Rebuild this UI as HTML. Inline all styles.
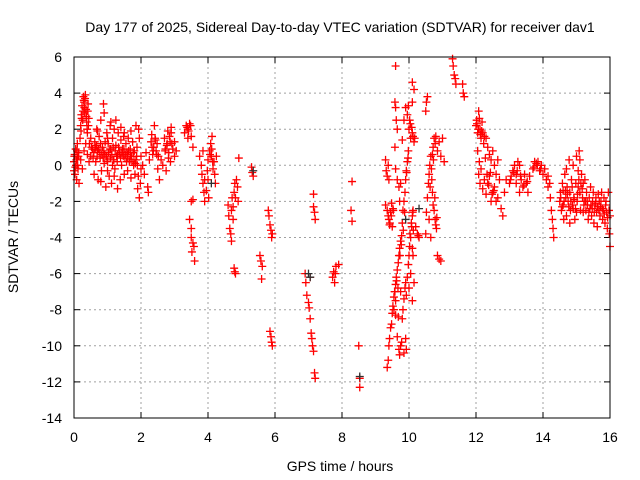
<!DOCTYPE html>
<html><head><meta charset="utf-8"><style>
body{margin:0;background:#fff}
svg{display:block;font-family:"Liberation Sans",sans-serif}
</style></head><body>
<svg id="chart" width="640" height="480" xmlns="http://www.w3.org/2000/svg">
<rect width="640" height="480" fill="#fff"/>
<text x="340" y="32" text-anchor="middle" font-size="14">Day 177 of 2025, Sidereal Day-to-day VTEC variation (SDTVAR) for receiver dav1</text>
<text x="340" y="471" text-anchor="middle" font-size="14">GPS time / hours</text>
<text transform="translate(18,237) rotate(-90)" text-anchor="middle" font-size="14">SDTVAR / TECUs</text>
<g id="grid"></g>
<g id="ticks"></g>
<g id="marks"></g>
<rect x="74" y="57" width="536" height="361" fill="none" stroke="#000" stroke-width="1"/>
</svg>
<script>
const xTicks=[0,2,4,6,8,10,12,14,16];
const yTicks=[-14,-12,-10,-8,-6,-4,-2,0,2,4,6];
const hours=[0,0,0.02,0.03,0.05,0.06,0.08,0.1,0.1,0.12,0.14,0.15,
0.18,0.2,0.22,0.24,0.26,0.28,0.3,0.32,0.34,0.36,0.38,0.4,0.42,0.44,0.46,0.5,0.2,0.25,0.3,0.35,0.4,0.45,0.5,0.55,
0.6,0.62,0.65,0.68,0.7,0.72,0.75,0.78,0.8,0.82,0.85,0.88,0.9,0.92,0.95,0.98,1.0,1.02,1.05,1.08,1.1,1.12,1.15,1.18,1.2,1.22,1.25,1.28,1.3,1.32,1.35,1.38,1.4,1.42,1.45,1.48,1.5,1.52,1.55,1.58,1.6,1.62,1.65,1.68,1.7,1.72,1.75,1.78,1.8,1.82,1.85,1.88,1.9,1.92,1.95,1.98,1.93,1.95,2.0,2.0,
0.7,0.9,1.0,1.1,1.2,1.3,1.5,1.7,1.85,1.4,1.6,1.0,0.8,0.65,1.15,1.25,
2.05,2.1,2.15,2.2,2.22,2.25,2.3,2.32,2.35,2.38,2.4,2.42,2.45,2.48,2.5,2.52,2.55,2.6,
2.65,2.7,2.72,2.75,2.78,2.8,2.82,2.85,2.88,2.9,2.92,2.95,3.0,3.05,3.0,2.9,
3.3,3.35,3.4,3.45,3.5,3.55,3.4,3.45,3.5,3.5,3.55,3.52,3.58,3.6,3.5,3.55,
3.75,3.8,3.82,3.85,3.88,3.9,3.9,3.95,3.98,4.0,4.0,4.02,4.05,4.08,4.1,4.12,4.15,4.18,4.2,4.22,3.85,4.25,
4.6,4.62,4.65,4.68,4.7,4.7,4.72,4.75,4.78,4.8,4.82,4.85,4.88,4.9,4.78,4.8,4.82,4.75,4.92,
5.3,5.32,5.35,
5.55,5.58,5.6,5.62,5.8,5.82,5.85,5.88,5.9,5.92,5.85,5.88,5.9,5.92,
6.9,6.92,6.95,7.0,7.02,7.05,7.08,7.1,7.12,7.15,7.18,7.2,7.15,7.15,7.18,7.2,7.05,
7.72,7.75,7.8,7.82,7.78,7.9,
8.27,8.3,8.3,8.5,8.53,8.53,
9.35,9.38,9.4,9.42,9.45,9.48,9.5,9.52,9.55,9.58,9.6,9.62,9.65,9.68,9.7,9.72,9.75,9.78,9.8,9.82,9.85,9.88,9.9,9.92,9.95,9.98,
9.65,9.7,9.72,9.75,9.78,9.8,9.82,9.85,9.88,9.9,9.92,9.95,9.98,10.0,10.02,10.05,10.08,10.1,10.12,9.6,9.55,9.6,9.68,9.75,10.0,10.05,9.9,9.92,9.85,10.1,10.15,10.12,10.1,
9.3,9.35,9.38,9.4,9.42,9.45,9.5,9.48,9.52,
9.3,9.32,9.35,9.38,9.4,
9.6,9.58,9.6,9.62,9.65,9.58,9.6,9.65,9.7,9.72,9.75,9.8,9.85,9.9,
9.95,9.98,10.0,10.02,10.05,10.08,10.1,10.12,10.15,10.1,10.15,10.1,10.2,10.25,10.28,10.3,
10.5,10.52,10.55,10.58,10.6,10.62,10.65,10.68,10.7,10.72,10.75,10.78,10.8,10.82,10.7,10.72,10.75,10.78,10.8,10.85,10.9,10.95,11.0,11.05,10.85,10.9,10.95,10.6,10.65,
10.5,10.52,10.55,
11.3,11.32,11.35,11.38,11.4,
11.6,11.62,11.65,
12.0,12.02,12.05,12.08,12.1,12.12,12.15,12.18,12.2,12.25,12.3,12.35,12.4,12.45,12.5,12.55,12.6,12.65,12.05,12.08,12.1,12.12,12.15,12.2,12.25,12.3,12.35,12.4,12.45,12.5,12.55,12.6,12.65,12.7,12.75,12.8,12.85,12.9,
13.0,13.05,13.1,13.15,13.2,13.25,13.3,13.35,13.4,13.45,13.5,13.55,13.6,13.3,13.2,
13.7,13.75,13.8,13.85,13.9,13.95,14.0,14.05,14.1,14.15,14.2,14.22,14.25,14.28,14.3,14.32,14.15,
14.5,14.52,14.55,14.58,14.6,14.62,14.65,14.68,14.7,14.72,14.75,14.78,14.8,14.82,14.85,14.88,14.9,14.92,14.95,14.98,15.0,15.02,15.05,15.08,15.1,15.12,15.15,15.18,15.2,15.22,15.25,15.28,15.3,15.32,15.35,15.38,15.4,15.42,15.45,15.48,15.5,15.52,15.55,15.58,15.6,15.62,15.65,15.68,15.7,15.72,15.75,15.78,15.8,15.82,15.85,15.88,15.9,15.92,15.95,15.98,16.0,16.0,15.0,14.9,14.7,15.1,15.2,14.6,14.8,15.05,
0.01,0.04,0.07,0.09,0.11,0.13,0.21,0.23,0.27,0.29,0.31,0.33,0.37,0.39,0.41,0.43,0.52,0.57,0.59,0.63,0.67,0.69,0.73,0.77,0.79,0.83,0.87,0.89,0.93,0.97,0.99,1.03,1.07,1.09,1.13,1.17,1.19,1.23,1.27,1.29,1.33,1.37,1.39,1.43,1.47,1.49,1.53,1.57,1.59,1.63,1.67,1.69,1.73,1.77,1.79,1.83,1.87,1.89,
2.33,2.37,2.43,2.47,2.73,2.77,2.83,2.87,3.38,3.42,3.48,4.06,4.11,4.14,
9.57,9.63,9.67,9.73,9.77,9.83,9.87,9.93,9.97,10.03,10.07,10.11,9.47,9.53,9.43,10.63,10.67,10.73,10.77,10.83,10.13,10.17,10.04,
12.03,12.07,12.13,12.17,12.23,12.28,12.33,12.38,12.43,12.48,12.53,13.03,13.13,13.23,13.33,13.43,13.53,13.73,13.83,13.93,
14.53,14.57,14.63,14.67,14.73,14.77,14.83,14.87,14.93,14.97,15.03,15.07,15.13,15.17,15.23,15.27,15.33,15.37,15.43,15.47,15.53,15.57,15.63,15.67,15.73,15.77,15.83,15.87,15.93,15.97];
const tecu=[0.2,-0.3,0.6,-0.5,0.9,0,-0.8,0.4,1.2,-0.2,0.7,-1,
1.5,2.2,2.8,3.3,2.5,3.8,3.5,2.9,3.9,3.1,2.4,1.8,3.4,2.6,1.2,0.5,0.3,-0.2,0.8,1.2,0.6,0.2,1.5,0.9,
-0.5,1.3,0.2,2.0,0.8,-0.8,1.6,0.4,2.5,-0.3,1.0,3.4,2.9,0.6,-1.2,1.8,0.2,1.2,-0.6,2.2,0.9,-1.0,1.5,0.3,2.0,-0.2,1.1,0.5,-1.3,1.8,0.8,-0.8,1.4,0.0,0.9,1.6,-0.5,0.4,1.2,0.7,-0.3,1.5,0.2,0.9,-0.7,0.5,1.3,0.0,0.8,-0.5,0.3,1.0,-1.3,-0.6,-1.8,-1.0,2.0,1.5,0.5,-0.2,
1.9,0.1,1.5,2.4,-0.6,0.6,1.8,1.9,2.2,2.1,0.6,-0.3,-0.9,1.0,0.0,2.5,
0.0,-0.5,0.7,-1.2,-1.5,0.3,1.3,1.7,0.6,1.0,2.2,1.5,0.8,1.2,-0.2,0.5,-0.8,0.3,
0.0,1.5,0.8,-0.3,1.2,1.9,0.4,1.6,0.2,1.8,1.2,0.9,0.5,0.8,1.3,2.1,
1.8,2.2,2.0,2.3,1.6,1.0,1.5,-3.0,-3.5,-4.0,-4.3,-4.8,-4.5,-5.3,-2.0,-1.9,
0.5,0.0,-0.5,-1.0,-1.5,-2.0,-0.8,-1.4,-0.3,0.3,-0.8,-1.8,0.8,1.2,0.5,1.6,-0.2,0.2,-0.5,-1.0,0.8,0.5,
-2.2,-2.8,-3.5,-3.8,-4.2,-2.5,-1.8,-2.3,-1.5,-1.0,-1.8,-0.8,-1.2,-2.0,-5.7,-5.9,-6.0,-3.0,0.4,
-0.1,-0.4,-0.6,
-5.0,-5.3,-6.3,-5.6,-2.5,-2.8,-3.3,-3.6,-4.0,-3.8,-9.2,-9.5,-9.8,-10.0,
-6.0,-6.5,-7.2,-7.6,-7.9,-8.5,-9.3,-9.6,-10.0,-10.3,-11.5,-11.8,-1.6,-2.3,-2.6,-3.0,-6.2,
-6.2,-5.9,-6.0,-5.6,-6.5,-5.5,
-2.5,-3.1,-0.9,-10.0,-11.8,-12.3,
-11.2,-10.8,-10.0,-9.6,-9.0,-8.8,-8.2,-7.8,-7.3,-7.0,-6.6,-6.2,-5.8,-5.4,-5.0,-4.6,-4.2,-3.9,-3.2,-2.5,-2.0,-1.5,-0.8,-0.3,0.2,0.8,
-9.5,-10.2,-10.5,-10.0,-9.8,-8.5,-8.0,-7.4,-6.8,-6.5,-7.2,-6.2,-5.5,-5.0,-4.5,-4.0,-3.4,-2.8,-2.5,-8.3,-8.0,-7.5,-8.4,-7.0,-6.8,-6.0,-9.6,-10.2,-10.4,-7.5,-6.5,-5.0,-4.6,
-2.2,-2.5,-2.8,-3.0,-3.3,-2.6,-3.4,-2.1,-2.4,
0.3,-0.3,-0.6,0.0,-0.8,
5.5,3.5,3.2,2.5,2.0,1.0,-0.2,-0.8,-1.2,-2.0,-1.0,1.4,2.5,3.2,
2.8,3.3,2.0,2.5,1.5,2.1,1.8,1.6,1.3,4.6,4.2,3.5,-3.4,-3.8,-3.9,-4.0,
-3.8,-2.6,-1.8,-1.0,-0.5,0.0,0.5,-0.8,-1.5,-2.2,-2.5,-3.0,-3.3,-3.5,0.6,1.0,1.5,1.2,1.6,0.8,1.3,0.5,1.5,0.2,-5.0,-5.2,-5.3,-3.0,-4.0,
3.0,3.5,3.8,
5.9,5.5,5.0,4.8,4.5,
4.5,4.0,3.8,
2.2,2.5,1.8,3.0,2.6,2.0,1.5,2.4,1.8,1.6,1.5,1.0,0.6,0.3,0.8,0.0,-0.5,0.3,0.8,-0.5,0.2,-1.0,-0.2,-1.3,-0.8,-1.6,-1.0,-0.6,-2.0,-1.5,-1.2,-2.0,-1.8,-0.8,-2.4,-2.8,-1.5,-0.8,
-1.0,-0.6,-0.3,0.0,-0.5,0.2,0.0,-0.8,-1.2,-0.5,-1.0,-1.5,-0.6,-1.5,-1.0,
-0.2,0.2,0.1,0.2,-0.3,0.0,-0.5,-0.2,-0.8,-1.2,-1.0,-1.8,-2.5,-3.0,-3.5,-4.0,-0.6,
-2.0,-1.5,-2.5,-1.0,-2.2,-3.0,-0.5,-1.8,-2.8,-1.2,-2.0,0.3,-1.5,-2.5,-0.8,-2.2,0.0,-1.8,-3.0,-1.0,0.5,-2.0,-0.3,0.8,-1.5,-2.5,-0.5,-1.8,-1.0,-2.2,-0.8,-2.5,-1.5,-2.0,-3.0,-1.8,-2.4,-1.2,-2.8,-2.0,-1.5,-3.2,-2.2,-1.8,-2.6,-3.4,-1.6,-2.0,-2.8,-2.3,-1.5,-3.0,-2.5,-1.8,-3.2,-2.0,-2.6,-3.5,-1.5,-3.8,-4.5,-2.8,-2.6,-2.4,-0.2,0.3,-2.6,-1.4,-3.2,-1.2,
0.5,-0.1,0.3,0.8,0.0,0.5,1.9,2.6,3.0,3.6,3.2,3.7,2.7,2.0,3.0,2.2,1.0,0.4,0.7,0.9,1.1,0.5,0.9,0.7,1.2,0.6,0.4,0.8,1.3,0.5,0.3,0.7,0.9,0.4,0.6,1.0,0.3,0.8,0.5,0.2,1.0,0.6,0.4,0.7,0.5,0.9,0.6,0.2,0.4,0.8,0.3,0.5,0.2,0.7,0.3,0.1,0.5,0.0,
1.0,0.8,1.4,0.6,0.9,1.1,0.7,1.3,2.1,1.9,2.2,0.6,0.9,0.2,
-7.0,-6.4,-6.8,-5.0,-4.4,-3.6,-2.6,-0.4,0.4,-3.8,-3.2,-2.6,-2.8,-2.5,-3.2,-1.2,-0.2,0.3,-1.8,-2.9,-3.6,1.5,2.3,
2.3,2.0,1.7,1.9,1.2,0.4,-0.5,-1.1,-0.4,-1.6,-1.4,-0.8,-0.4,-0.3,-0.6,-1.1,-0.9,-0.1,0.0,-0.2,
-1.8,-2.3,-2.0,-1.4,-1.6,-2.3,-2.0,-1.2,-1.9,-2.4,-1.6,-0.8,-1.0,-1.3,-2.0,-2.0,-2.2,-2.6,-2.2,-2.4,-2.6,-2.1,-2.3,-2.5,-2.0,-2.4,-2.7,-2.2,-2.9,-2.5];
const darkHours=[7.0,7.05,8.53,4.1,5.35,9.9,10.3];
const darkTecu=[-6.0,-6.2,-11.7,-1.0,-0.3,-3.0,-2.4];

const X0=74,X1=610,Y0=418,Y1=57;
function xs(h){return X0+(h-0)/(16-0)*(X1-X0);}
function ys(v){return Y0-(v+14)/(6+14)*(Y0-Y1);}
const NS='http://www.w3.org/2000/svg';
function mk(tag,parent){const e=document.createElementNS(NS,tag);parent.appendChild(e);return e;}
const grid=document.getElementById('grid'),ticks=document.getElementById('ticks'),marks=document.getElementById('marks');
xTicks.forEach(t=>{
  const x=xs(t);
  if(t>0&&t<16){const g=mk('line',grid);
  
  
  g.setAttribute('x1',x);g.setAttribute('x2',x);g.setAttribute('y1',Y1);g.setAttribute('y2',Y0);
  g.setAttribute('stroke','#a0a0a0');g.setAttribute('stroke-dasharray','2,3');}
  const tk=mk('line',ticks);
  
  
  tk.setAttribute('x1',x);tk.setAttribute('x2',x);tk.setAttribute('y1',Y0);tk.setAttribute('y2',Y0-6);tk.setAttribute('stroke','#000');
  const tk2=mk('line',ticks);
  
  
  tk2.setAttribute('x1',x);tk2.setAttribute('x2',x);tk2.setAttribute('y1',Y1);tk2.setAttribute('y2',Y1+6);tk2.setAttribute('stroke','#000');
  const tx=mk('text',ticks);
  
  
  tx.setAttribute('x',x);tx.setAttribute('y',Y0+24);tx.setAttribute('text-anchor','middle');tx.setAttribute('font-size','14');
  tx.textContent=t;
});
yTicks.forEach(t=>{
  const y=ys(t);
  if(t>-14&&t<6){const g=mk('line',grid);
  
  
  g.setAttribute('x1',X0);g.setAttribute('x2',X1);g.setAttribute('y1',y);g.setAttribute('y2',y);
  g.setAttribute('stroke','#a0a0a0');g.setAttribute('stroke-dasharray','2,3');}
  const tk=mk('line',ticks);
  
  
  tk.setAttribute('x1',X0);tk.setAttribute('x2',X0+6);tk.setAttribute('y1',y);tk.setAttribute('y2',y);tk.setAttribute('stroke','#000');
  const tk2=mk('line',ticks);
  
  
  tk2.setAttribute('x1',X1);tk2.setAttribute('x2',X1-6);tk2.setAttribute('y1',y);tk2.setAttribute('y2',y);tk2.setAttribute('stroke','#000');
  const tx=mk('text',ticks);
  
  
  tx.setAttribute('x',X0-12);tx.setAttribute('y',y+5);tx.setAttribute('text-anchor','end');tx.setAttribute('font-size','14');
  tx.textContent=t;
});
function plus(h,v,color){
  const x=xs(h),y=ys(v);
  const p=mk('path',marks);
  
  
  p.setAttribute('d','M'+(x-4)+' '+y+'H'+(x+4)+'M'+x+' '+(y-4)+'V'+(y+4));
  p.setAttribute('stroke',color);p.setAttribute('stroke-width','1.3');
}
hours.forEach((h,i)=>plus(h,tecu[i],'#ff0000'));
darkHours.forEach((h,i)=>plus(h,darkTecu[i],'#303030'));
</script>
</body></html>
